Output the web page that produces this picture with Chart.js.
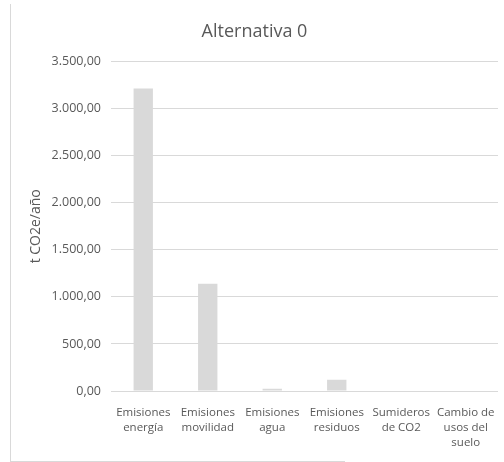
<!DOCTYPE html>
<html>
<head>
<meta charset="utf-8">
<script src="https://cdn.jsdelivr.net/npm/chart.js@4"></script>
<style>
  html, body { margin: 0; padding: 0; background: #ffffff; }
  #wrap { width: 504px; height: 462px; position: relative; }
</style>
</head>
<body>
<div id="wrap"><canvas id="chart"></canvas></div>
<script>
// Categories (multi-line labels) and yearly emissions in t CO2e
const categories = [
  ["Emisiones", "energía"],
  ["Emisiones", "movilidad"],
  ["Emisiones", "agua"],
  ["Emisiones", "residuos"],
  ["Sumideros", "de CO2"],
  ["Cambio de", "usos del", "suelo"]
];
const emissions = [3213, 1140, 25, 120, 0, 0];
const yTicks = [0, 500, 1000, 1500, 2000, 2500, 3000, 3500];

const chartTitle = "Alternativa 0";
const yAxisTitle = "t CO2e/año";

const textColor = "#595959";
const fontFamily = "'Open Sans', 'Noto Sans', sans-serif";

// Spanish number format: 3.500,00
const fmt = v => {
  const [intPart, dec] = v.toFixed(2).split(".");
  return intPart.replace(/\B(?=(\d{3})+(?!\d))/g, ".") + "," + dec;
};

// Thin frame on the left and bottom edges of the chart object
const framePlugin = {
  id: "frame",
  afterDraw(chart) {
    const ctx = chart.ctx;
    ctx.save();
    ctx.strokeStyle = "#d9d9d9";
    ctx.lineWidth = 1;
    ctx.beginPath();
    ctx.moveTo(10.5, 4);
    ctx.lineTo(10.5, 461.5);
    ctx.moveTo(10, 461.5);
    ctx.lineTo(345, 461.5);
    ctx.stroke();
    ctx.restore();
  }
};

new Chart(document.getElementById("chart"), {
  type: "bar",
  data: {
    labels: categories,
    datasets: [{
      data: emissions,
      backgroundColor: "#d9d9d9",
      borderWidth: 0,
      barPercentage: 0.3,
      categoryPercentage: 1.0
    }]
  },
  options: {
    responsive: true,
    maintainAspectRatio: false,
    animation: false,
    layout: { padding: { left: 11, right: 6, top: 5, bottom: 0 } },
    plugins: {
      legend: { display: false },
      tooltip: { enabled: false },
      title: {
        display: true,
        text: chartTitle,
        color: textColor,
        font: { family: fontFamily, size: 18, weight: "normal", lineHeight: 1.2 },
        padding: { top: 16, bottom: 19 }
      }
    },
    scales: {
      x: {
        grid: { display: false },
        border: { display: false },
        ticks: {
          color: textColor,
          font: { family: fontFamily, size: 11.5, lineHeight: 1.3 },
          maxRotation: 0,
          autoSkip: false,
          padding: 6
        },
        afterFit(scale) { scale.height = 71; }
      },
      y: {
        min: 0,
        max: 3500,
        afterBuildTicks(scale) { scale.ticks = yTicks.map(v => ({ value: v })); },
        grid: { color: "#d9d9d9", drawTicks: false },
        border: { display: false },
        ticks: {
          color: textColor,
          font: { family: fontFamily, size: 12.5 },
          padding: 10,
          callback: v => fmt(v)
        },
        title: {
          display: true,
          text: yAxisTitle,
          color: textColor,
          font: { family: fontFamily, size: 14, lineHeight: 1.2 },
          padding: { top: 17, bottom: 0 }
        },
        afterFit(scale) { scale.width = 100; }
      }
    }
  },
  plugins: [framePlugin]
});
</script>
</body>
</html>
